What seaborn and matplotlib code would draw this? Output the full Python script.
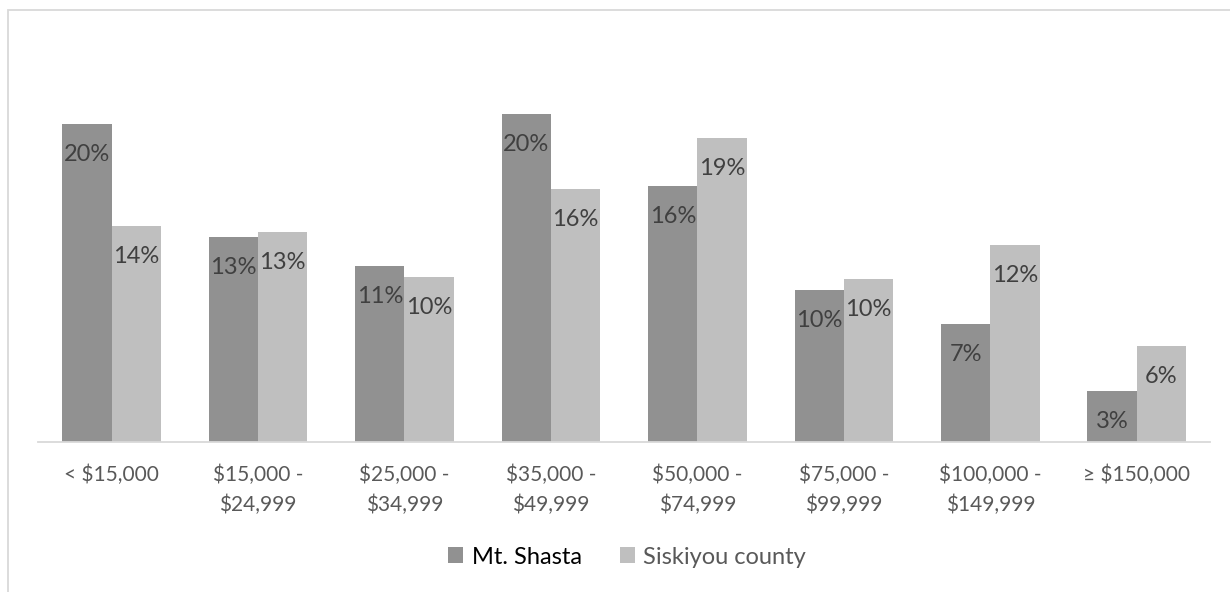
import numpy as np
import pandas as pd
import seaborn as sns
import matplotlib
matplotlib.use("Agg")
import matplotlib.pyplot as plt
from matplotlib.patches import Rectangle, Patch

categories = ["< \\$15,000", "\\$15,000 -\n\\$24,999", "\\$25,000 -\n\\$34,999",
              "\\$35,000 -\n\\$49,999", "\\$50,000 -\n\\$74,999", "\\$75,000 -\n\\$99,999",
              "\\$100,000 -\n\\$149,999", "≥ \\$150,000"]
series_names = ["Mt. Shasta", "Siskiyou county"]
mt_shasta = [19.9, 12.8, 11.0, 20.5, 16.0, 9.5, 7.4, 3.2]
siskiyou = [13.5, 13.1, 10.3, 15.8, 19.0, 10.2, 12.3, 6.0]
colors = ["#919191", "#bfbfbf"]

df = pd.DataFrame({
    "category": categories * 2,
    "series": [series_names[0]] * len(categories) + [series_names[1]] * len(categories),
    "value": mt_shasta + siskiyou,
})

sns.set_style("white")
plt.rcParams["font.family"] = ["Lato", "DejaVu Sans"]

W, H = 1230, 592
fig = plt.figure(figsize=(W / 100, H / 100), dpi=100)
ax_left, ax_right, ax_base, ax_top = 38.3, 1210, 442, 42
ax = fig.add_axes([ax_left / W, (H - ax_base) / H, (ax_right - ax_left) / W, (ax_base - ax_top) / H])

sns.barplot(data=df, x="category", y="value", hue="series", hue_order=series_names,
            order=categories, palette=colors, width=0.673, gap=0, ax=ax,
            legend=False, saturation=1, edgecolor="none", linewidth=0)

ax.set_ylim(0, 25)
ax.set_xlim(-0.5, len(categories) - 0.5)
ax.set_xlabel("")
ax.set_ylabel("")
ax.set_yticks([])
for s in ["top", "right", "left"]:
    ax.spines[s].set_visible(False)
ax.spines["bottom"].set_color("#d9d9d9")
ax.spines["bottom"].set_linewidth(1.3)
ax.tick_params(axis="x", length=0, pad=16, labelsize=15, labelcolor="#595959")
for t in ax.get_xticklabels():
    t.set_linespacing(1.6)
    t.set_verticalalignment("top")

for cont in ax.containers:
    for bar in cont:
        h = bar.get_height()
        ax.annotate(f"{round(h)}%", (bar.get_x() + bar.get_width() / 2, h),
                    xytext=(0, -22), textcoords="offset points",
                    ha="center", va="center", fontsize=17, color="#404040")

handles = [Patch(facecolor=c, edgecolor="none") for c in colors]
leg = fig.legend(handles, series_names, loc="center", bbox_to_anchor=(627 / W, 1 - 557 / H),
                 ncol=2, frameon=False, fontsize=17, handlelength=0.65, handleheight=0.65,
                 handletextpad=0.35, columnspacing=1.6)
leg.get_texts()[0].set_color("#000000")
leg.get_texts()[1].set_color("#595959")

fig.patches.append(Rectangle((8 / W, -0.1), 1.2, (H - 10) / H + 0.1, transform=fig.transFigure,
                             fill=False, edgecolor="#d9d9d9", linewidth=1.3))

fig.savefig("out.png", dpi=100, facecolor="white")
